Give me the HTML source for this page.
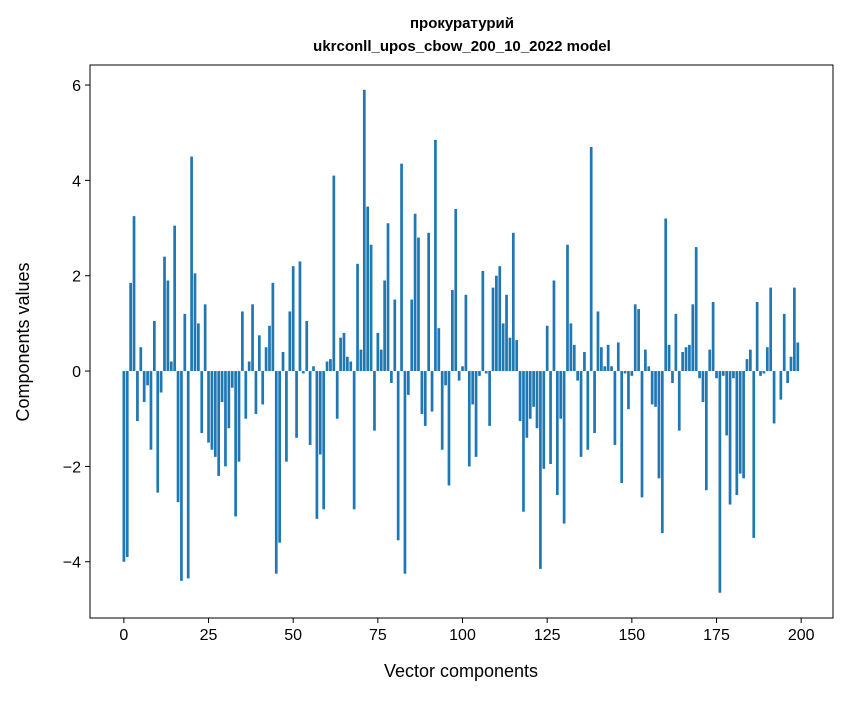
<!DOCTYPE html>
<html><head><meta charset="utf-8"><style>
body{margin:0;background:#fff;}
svg text{font-family:"Liberation Sans","DejaVu Sans",sans-serif;fill:#000;}
</style></head><body>
<svg id="chart" width="847" height="696" xmlns="http://www.w3.org/2000/svg">
<rect width="847" height="696" fill="#fff"/>
<text x="462" y="28" text-anchor="middle" font-size="15" font-weight="bold">прокуратурий</text>
<text x="462" y="51" text-anchor="middle" font-size="15" font-weight="bold">ukrconll_upos_cbow_200_10_2022 model</text>
<g id="bars"></g>
<g id="axes"></g>
<rect x="90" y="65" width="743" height="553" fill="none" stroke="#000" stroke-width="1"/>
<text x="461" y="677" text-anchor="middle" font-size="18">Vector components</text>
<text transform="translate(29,342) rotate(-90)" text-anchor="middle" font-size="18">Components values</text>
</svg>
<script>
const values=[-4.0,-3.9,1.85,3.25,-1.05,0.5,-0.65,-0.3,-1.65,1.05,-2.55,-0.45,2.4,1.9,0.2,3.05,-2.75,-4.4,1.2,-4.35,
4.5,2.05,1.0,-1.3,1.4,-1.5,-1.65,-1.8,-2.2,-0.65,-2.0,-1.2,-0.35,-3.05,-1.9,1.25,-1.0,0.2,1.4,-0.9,
0.75,-0.7,0.5,0.95,1.85,-4.25,-3.6,0.4,-1.9,1.25,2.2,-1.4,2.3,-0.05,1.05,-1.55,0.1,-3.1,-1.75,-2.9,
0.2,0.25,4.1,-1.0,0.7,0.8,0.3,0.2,-2.9,2.25,0.45,5.9,3.45,2.65,-1.25,0.8,0.45,1.9,3.1,-0.25,
1.5,-3.55,4.35,-4.25,-0.5,1.5,3.3,2.8,-0.9,-1.15,2.9,-0.85,4.85,0.9,-1.65,-0.3,-2.4,1.7,3.4,-0.2,
0.1,1.6,-2.0,-0.7,-1.8,-0.1,2.1,-0.05,-1.15,1.75,2.0,2.2,1.0,1.6,0.7,2.9,0.65,-1.05,-2.95,-1.4,
-1.0,-0.75,-1.2,-4.15,-2.05,0.95,-1.95,1.9,-2.6,-1.0,-3.2,2.65,1.0,0.55,-0.2,-1.8,0.4,-1.65,4.7,-1.3,
1.25,0.5,0.1,0.55,0.1,-1.55,0.6,-2.35,-0.05,-0.8,-0.1,1.4,1.3,-2.65,0.45,0.1,-0.7,-0.75,-2.25,-3.4,
3.2,0.55,-0.25,1.2,-1.25,0.4,0.5,0.55,1.4,2.6,-0.15,-0.65,-2.5,0.45,1.45,-0.15,-4.65,-0.1,-1.35,-2.8,
-0.15,-2.6,-2.15,-2.25,0.25,0.45,-3.5,1.45,-0.1,-0.05,0.5,1.75,-1.1,0.0,-0.6,1.2,-0.25,0.3,1.75,0.6];
const xTicks=[0,25,50,75,100,125,150,175,200];
const yTicks=[-4,-2,0,2,4,6];
const yTickLabels=["\u22124","\u22122","0","2","4","6"];
const NS="http://www.w3.org/2000/svg";
const L=90,R=833,T=65,B=618,xmin=-10.0,xmax=209.4,ymin=-5.18,ymax=6.42;
function sx(v){return L+(v-xmin)/(xmax-xmin)*(R-L);}
function sy(v){return B-(v-ymin)/(ymax-ymin)*(B-T);}
const bars=document.getElementById('bars');
values.forEach((v,i)=>{
  const r=document.createElementNS(NS,'rect');
  const x0=sx(i-0.4),x1=sx(i+0.4);
  const y0=sy(Math.max(v,0)),y1=sy(Math.min(v,0));
  r.setAttribute('x',x0);r.setAttribute('width',x1-x0);
  r.setAttribute('y',y0);r.setAttribute('height',Math.max(y1-y0,0));
  r.setAttribute('fill','#1f77b4');
  
  
  bars.appendChild(r);
});
const axes=document.getElementById('axes');
xTicks.forEach(t=>{
  const x=sx(t);
  const l=document.createElementNS(NS,'line');
  l.setAttribute('x1',x);l.setAttribute('x2',x);l.setAttribute('y1',B);l.setAttribute('y2',B+5);
  l.setAttribute('stroke','#000');
  
  
  axes.appendChild(l);
  const tx=document.createElementNS(NS,'text');
  tx.setAttribute('x',x);tx.setAttribute('y',B+22);tx.setAttribute('text-anchor','middle');tx.setAttribute('font-size','16');
  tx.textContent=t;
  
  
  axes.appendChild(tx);
});
yTicks.forEach((t,i)=>{
  const y=sy(t);
  const l=document.createElementNS(NS,'line');
  l.setAttribute('x1',L-5);l.setAttribute('x2',L);l.setAttribute('y1',y);l.setAttribute('y2',y);
  l.setAttribute('stroke','#000');
  
  
  axes.appendChild(l);
  const tx=document.createElementNS(NS,'text');
  tx.setAttribute('x',L-9);tx.setAttribute('y',y+6);tx.setAttribute('text-anchor','end');tx.setAttribute('font-size','16');
  tx.textContent=yTickLabels[i];
  
  
  axes.appendChild(tx);
});
</script>
</body></html>
